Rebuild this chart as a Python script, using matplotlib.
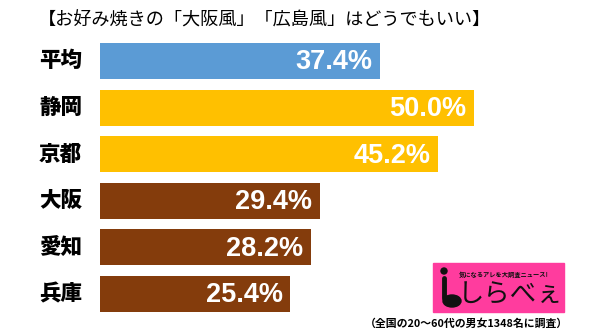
import matplotlib
matplotlib.use('Agg')
import matplotlib.pyplot as plt
from matplotlib.patches import Rectangle, Ellipse, Circle

plt.rcParams['font.family'] = ['Noto Sans CJK JP', 'DejaVu Sans']

title = '【お好み焼きの「大阪風」「広島風」はどうでもいい】'
regions = ['平均', '静岡', '京都', '大阪', '愛知', '兵庫']
values = [37.4, 50.0, 45.2, 29.4, 28.2, 25.4]
note = '（全国の20〜60代の男女1348名に調査）'

blue = '#5B9BD5'
yellow = '#FFC000'
brown = '#843C0C'
colors = [blue, yellow, yellow, brown, brown, brown]

fig = plt.figure(figsize=(6, 3.32), dpi=100)

# main bar axes: left edge at x=100px, 7.48 px per %
ax = fig.add_axes([100/600, 14.6/332, 500/600, 279.8/332])
ypos = list(range(len(regions)))
ax.barh(ypos, values, height=0.77, color=colors)
ax.set_xlim(0, 500/7.48)
ax.set_ylim(5.5, -0.5)
ax.axis('off')

for y, v, name in zip(ypos, values, regions):
    ax.text(v - 1.0, y + 0.03, f'{v:.1f}%', ha='right', va='center',
            color='white', fontsize=19.5, fontweight='bold',
            family='Liberation Sans')
    ax.text(-2.4, y, name, ha='right', va='center', color='black',
            fontsize=15.5, fontweight='heavy')

fig.text(264/600, 1 - 21/332, title, ha='center', va='center', fontsize=13.1)
fig.text(466/600, 1 - 323/332, note, ha='center', va='center',
         fontsize=7.8, fontweight='bold')

# logo drawn in pixel coordinates
ov = fig.add_axes([0, 0, 1, 1])
ov.set_xlim(0, 600)
ov.set_ylim(332, 0)
ov.axis('off')
ov.add_patch(Rectangle((433, 263), 131, 49, color='#FF3C9E'))
ov.add_patch(Circle((444, 271), 3, color='#111111'))
ov.plot([444, 444], [278, 298], color='#111111', lw=3.5, solid_capstyle='round')
ov.add_patch(Ellipse((452, 301), 18, 12, color='#111111'))
ov.text(504, 274, '気になるアレを大調査ニュース!', ha='center', va='center',
        fontsize=4.5, fontweight='bold', color='#111111')
ov.text(511, 295, 'しらべぇ', ha='center', va='center', fontsize=19,
        color='#111111')

fig.savefig('out.png', dpi=100)
